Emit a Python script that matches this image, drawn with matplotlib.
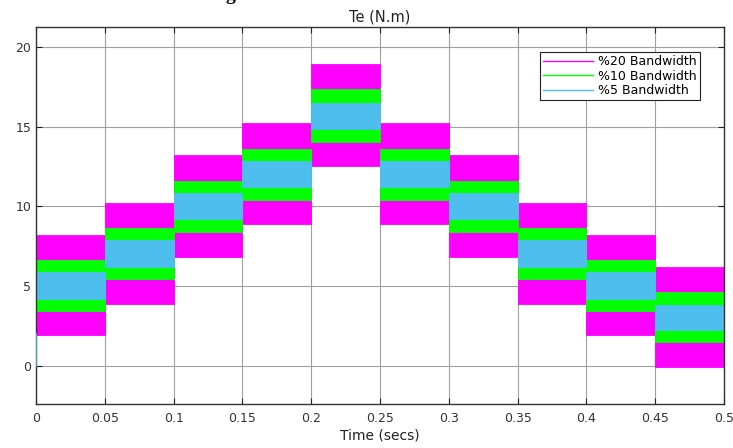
#!/usr/bin/env python3
"""
Hysteresis band torque comparison (Te) for three bandwidths
"""

import numpy as np
import matplotlib.pyplot as plt
from matplotlib.lines import Line2D

# segment start times (each segment lasts 0.05 s)
t_start = [0.0, 0.05, 0.1, 0.15, 0.2, 0.25, 0.3, 0.35, 0.4, 0.45]
seg_width = 0.05

# torque band limits, per segment
bw20_low = [1.9, 3.9, 6.85, 8.9, 12.55, 8.9, 6.85, 3.9, 1.9, -0.05]
bw20_high = [8.2, 10.2, 13.2, 15.2, 18.9, 15.2, 13.2, 10.2, 8.2, 6.2]
bw10_low = [3.45, 5.43, 8.4, 10.4, 14.05, 10.4, 8.4, 5.43, 3.45, 1.46]
bw10_high = [6.65, 8.63, 11.6, 13.6, 17.35, 13.6, 11.6, 8.63, 6.65, 4.64]
bw5_low = [4.2, 6.19, 9.2, 11.2, 14.85, 11.2, 9.2, 6.19, 4.2, 2.26]
bw5_high = [5.85, 7.86, 10.85, 12.83, 16.5, 12.83, 10.85, 7.86, 5.85, 3.84]

# start-up transient of the 5% trace
start_t = [0.0, 0.0]
start_te = [0.0, 2.0]

labels = ['%20 Bandwidth', '%10 Bandwidth', '%5 Bandwidth']
colors = ['#ff00ff', '#00ff00', '#4dbeee']

plt.rcParams['font.family'] = ['DejaVu Sans']

fig = plt.figure(figsize=(7.33, 4.48), dpi=100)
ax = fig.add_axes([0.0491, 0.0982, 0.9386, 0.8415])

bands = [(bw20_low, bw20_high), (bw10_low, bw10_high), (bw5_low, bw5_high)]
for (lo, hi), c in zip(bands, colors):
    lo = np.array(lo)
    hi = np.array(hi)
    ax.bar(t_start, hi - lo, width=seg_width, bottom=lo, align='edge',
           color=c, edgecolor=c, linewidth=0.6, zorder=2)

ax.plot(start_t, start_te, color=colors[2], linewidth=1.2, zorder=3)

ax.set_xlim(0, 0.5)
ax.set_ylim(-2.4, 21.25)
ax.set_xticks(np.arange(0, 0.51, 0.05))
ax.set_xticklabels(['0', '0.05', '0.1', '0.15', '0.2', '0.25', '0.3',
                    '0.35', '0.4', '0.45', '0.5'])
ax.set_yticks([0, 5, 10, 15, 20])
ax.tick_params(direction='in', top=True, right=True, labelsize=9,
               length=4, color='#222222', labelcolor='#333333')
ax.tick_params(axis='x', pad=6)
ax.grid(True, color='#a0a0a0', linewidth=0.8, zorder=1)
ax.set_axisbelow(True)
for s in ax.spines.values():
    s.set_color('#333333')
    s.set_linewidth(1.0)

ax.set_title('Te (N.m)', fontsize=10.5, color='#222222', pad=4)
ax.set_xlabel('Time (secs)', fontsize=10, color='#222222', labelpad=2)

handles = [Line2D([0], [0], color=c, linewidth=1.0) for c in colors]
leg = ax.legend(handles, labels, loc='upper right',
                bbox_to_anchor=(0.969, 0.94), fontsize=9,
                fancybox=False, framealpha=1, edgecolor='#222222',
                handlelength=4.0, borderpad=0.25, labelspacing=0.12,
                handletextpad=0.4, borderaxespad=0.2)
leg.get_frame().set_linewidth(0.8)

# cut-off caption remnant at the very top of the image
fig.text(0.314, 1.0, 'g', fontsize=14, fontweight='bold',
         family=['Liberation Serif', 'DejaVu Serif'], ha='center', va='baseline')

plt.savefig('out.png', dpi=100)
plt.close()
